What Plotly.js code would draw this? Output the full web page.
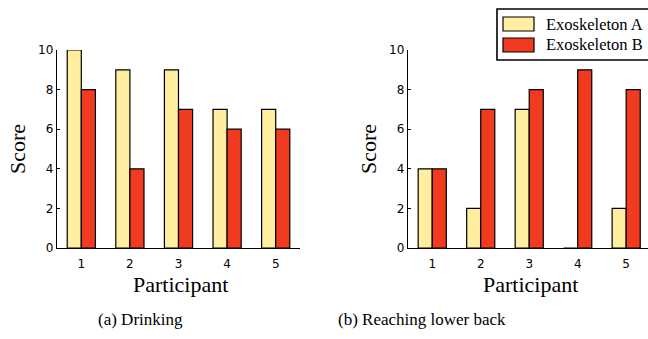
<!DOCTYPE html>
<html>
<head>
<meta charset="utf-8">
<script src="https://cdn.plot.ly/plotly-3.0.1.min.js"></script>
<style>html,body{margin:0;padding:0;background:#fff}#chart{width:648px;height:339px}</style>
</head>
<body>
<div id="chart"></div>
<script>
// Data
const participants = [1, 2, 3, 4, 5];
const seriesNames = ["Exoskeleton A", "Exoskeleton B"];
const drinkingA = [10, 9, 9, 7, 7];
const drinkingB = [8, 4, 7, 6, 6];
const reachingA = [4, 2, 7, 0, 2];
const reachingB = [4, 7, 8, 9, 8];
const yTicks = [0, 2, 4, 6, 8, 10];
const captions = ["(a) Drinking", "(b) Reaching lower back"];
const xTitle = "Participant";
const yTitle = "Score";

const colA = "#ffeda0", colB = "#f03b20";
const W = 648, H = 339;
const px = x => x / W, py = y => 1 - y / H;

function bar(x, y, color, xa, ya, name) {
  return {type: "bar", x: x, y: y, name: name, xaxis: xa, yaxis: ya,
    marker: {color: color, line: {color: "#000", width: 1.2}}, showlegend: false,
    hoverinfo: "skip"};
}
const data = [
  bar(participants, drinkingA, colA, "x", "y", seriesNames[0]),
  bar(participants, drinkingB, colB, "x", "y", seriesNames[1]),
  bar(participants, reachingA, colA, "x2", "y2", seriesNames[0]),
  bar(participants, reachingB, colB, "x2", "y2", seriesNames[1])
];

const tickFont = {family: "DejaVu Sans", size: 12, color: "#000"};
function xax(domain, range, anchor) {
  return {domain: domain, range: range, anchor: anchor, tickvals: participants,
    ticks: "", showline: true, linecolor: "#000", linewidth: 1.3, showgrid: false,
    zeroline: false, tickfont: tickFont, ticklabelstandoff: 4, fixedrange: true};
}
function yax(domain, anchor) {
  return {domain: domain, range: [0, 10], anchor: anchor, tickvals: yTicks,
    ticks: "inside", ticklen: 3, tickwidth: 1, tickcolor: "#000",
    showline: true, linecolor: "#000", linewidth: 1.3, showgrid: false,
    zeroline: false, tickfont: tickFont, ticklabelstandoff: 0, fixedrange: true};
}
const yDom = [py(248), py(50)];

const serif = {family: "Liberation Serif", size: 22, color: "#000"};
const legFont = {family: "Liberation Serif", size: 16.5, color: "#000"};
const capFont = {family: "Liberation Serif", size: 17, color: "#000"};

const annotations = [
  {text: yTitle, x: px(17), y: py(149), textangle: -90, font: serif},
  {text: yTitle, x: px(368), y: py(149), textangle: -90, font: serif},
  {text: xTitle, x: px(180), y: py(284), font: serif},
  {text: xTitle, x: px(530), y: py(284), font: serif},
  {text: captions[0], x: px(140), y: py(319), font: capFont},
  {text: captions[1], x: px(422), y: py(319), font: capFont},
  {text: seriesNames[0], x: px(544), y: py(24), xanchor: "left", font: legFont},
  {text: seriesNames[1], x: px(544), y: py(45), xanchor: "left", font: legFont}
].map(a => Object.assign({xref: "paper", yref: "paper", showarrow: false,
  xanchor: "center", yanchor: "middle"}, a));

const shapes = [
  {type: "rect", x0: px(497), x1: px(670), y0: py(60), y1: py(9),
    line: {color: "#000", width: 1.6}, fillcolor: "#fff"},
  {type: "rect", x0: px(503), x1: px(534), y0: py(31), y1: py(17),
    line: {color: "#000", width: 1.2}, fillcolor: colA},
  {type: "rect", x0: px(503), x1: px(534), y0: py(52), y1: py(38),
    line: {color: "#000", width: 1.2}, fillcolor: colB}
].map(s => Object.assign({xref: "paper", yref: "paper", layer: "above"}, s));

const layout = {
  width: W, height: H, margin: {l: 0, r: 0, t: 0, b: 0},
  paper_bgcolor: "#fff", plot_bgcolor: "rgba(0,0,0,0)",
  barmode: "group", bargap: 0.42, bargroupgap: 0,
  showlegend: false,
  xaxis: xax([px(57), px(300)], [0.5, 5.5], "y"),
  yaxis: yax(yDom, "x"),
  xaxis2: xax([px(408), 1], [0.5, 5.45], "y2"),
  yaxis2: yax(yDom, "x2"),
  annotations: annotations, shapes: shapes
};
Plotly.newPlot("chart", data, layout, {displayModeBar: false, staticPlot: true});
</script>
</body>
</html>
